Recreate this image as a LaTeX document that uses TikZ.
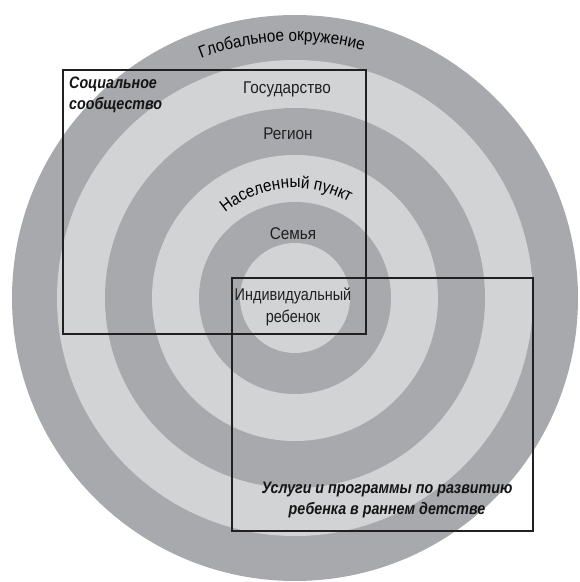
\documentclass[tikz,border=0pt]{standalone}
\usepackage{fontspec}
\setmainfont{Liberation Sans}[FakeStretch=0.9]
\newfontfamily\condsans{Liberation Sans}[FakeStretch=0.9]
\newfontfamily\narrowsans{Liberation Sans}[FakeStretch=0.85]
\newfontfamily\boldsans{Liberation Sans}[FakeStretch=0.86]
\usetikzlibrary{decorations.text,calc}
\definecolor{ringdark}{RGB}{167,169,172}
\definecolor{ringlight}{RGB}{209,211,212}
\definecolor{frameline}{RGB}{35,31,32}
\newcommand\ringtext{\condsans\fontsize{17}{20}\selectfont}
\newcommand\notetext{\boldsans\bfseries\itshape\fontsize{16.6}{21}\selectfont}
\tikzset{
  ringlabel/.style={font=\ringtext, inner sep=0pt, text=black!88},
  notelabel/.style={font=\notetext, inner sep=0pt, text=black!92},
  frame/.style={draw=frameline, line width=1.8pt, fill=none, inner sep=0pt},
}
\begin{document}
\begin{tikzpicture}[x=1pt,y=1pt]
\useasboundingbox (0,0) rectangle (580,582);
\coordinate (c) at (295,284);
% concentric rings, outermost first
\fill[ringdark]  (c) circle (283);
\fill[ringlight] (c) circle (238);
\fill[ringdark]  (c) circle (190);
\fill[ringlight] (c) circle (143);
\fill[ringdark]  (c) circle (96);
\fill[ringlight] (c) circle (55);

% curved ring titles
\path[decorate, decoration={text along path, text align=center,
      text={|\ringtext|Глобальное окружение}}]
  ([shift={(136:257)}]c) arc[start angle=136, end angle=50, radius=257];
\path[decorate, decoration={text along path, text align=center,
      text={|\ringtext|Населенный пункт}}]
  ([shift={(155:110)}]c) arc[start angle=155, end angle=35, radius=110];

% straight ring titles
\node[ringlabel] (state)  at (287,492.5) {Государство};
\node[ringlabel] (region) at (288,448.5) {Регион};
\node[ringlabel] (family) at (293,348.5) {Семья};
\node[ringlabel, align=center, font=\narrowsans\fontsize{17}{21.5}\selectfont] (child) at (293,275) {Индивидуальный\\ребенок};

% overlapping frames
\node[frame, minimum width=303pt, minimum height=264pt] (social) at (214.5,380) {};
\node[frame, minimum width=301pt, minimum height=253pt] (services) at (382.5,177.5) {};

\node[notelabel, align=left, anchor=north west] (socialtext) at (69,505) {Социальное\\сообщество};
\node[notelabel, align=center] (servicestext) at (387,82) {Услуги и программы по развитию\\ребенка в раннем детстве};
\end{tikzpicture}
\end{document}
